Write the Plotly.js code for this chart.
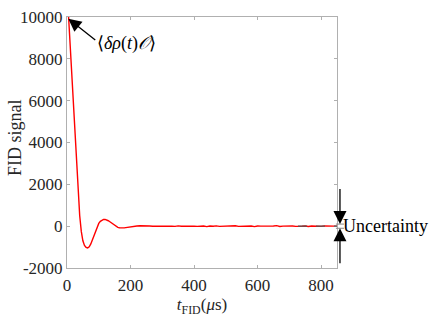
<!DOCTYPE html>
<html>
<head>
<meta charset="utf-8">
<script src="https://cdn.plot.ly/plotly-3.0.1.min.js"></script>
<style>html,body{margin:0;padding:0;background:#fff;}#chart{width:436px;height:319px;}</style>
</head>
<body>
<div id="chart"></div>
<script>
const tFid = [5,10,15,20,25,30,35,40,45,50,55,60,65,70,75,80,85,90,95,100,105,110,115,120,125,130,135,140,145,150,155,160,165,170,175,180,185,190,195,200,
  210,220,230,240,250,260,270,280,290,300,310,320,330,340,350,360,370,380,390,400,410,420,430,440,450,460,470,480,490,500,
  510,520,530,540,550,560,570,580,590,600,610,620,630,640,650,660,670,680,690,700,710,720,730,740,750,760,770,780,790,800,
  810,820,830,840,850];
const fidSignal = [10000,8650,7250,5800,4350,2900,1600,500,-250,-700,-920,-1010,-1040,-990,-850,-640,-420,-200,-10,130,230,290,320,320,300,260,210,150,90,30,-20,-55,-75,-85,-85,-80,-70,-55,-40,-30,
  -10,5,20,25,15,10,-5,0,-15,5,-10,10,0,-10,15,-5,5,-15,10,0,-10,10,5,-20,10,-5,15,-10,0,10,
  -15,5,20,-10,0,15,-10,5,-20,10,0,-5,15,-20,5,25,-15,0,10,-15,5,-10,10,-5,5,-15,10,-5,5,-10,
  10,-5,5,0,-5];
const xTicks = [0,200,400,600,800];
const yTicks = [-2000,0,2000,4000,6000,8000,10000];
const uncertainty = 100;
const dashStart = 727;
const initialPoint = {t: 4, v: 9920};

const serif = "Liberation Serif, Times New Roman, serif";
const axisColor = "#b0b0b0";
const textColor = "#262626";

const trace = {
  x: tFid, y: fidSignal, type: 'scatter', mode: 'lines',
  line: {color: '#ff0000', width: 1.4}, hoverinfo: 'skip'
};

const arrowBase = {text: '.', showarrow: true, arrowhead: 2, arrowsize: 2, arrowwidth: 1.3,
  arrowcolor: '#000', standoff: 0, startstandoff: 0, font: {size: 1, color: 'rgba(0,0,0,0)'}};

const plotW = 436 - 67 - 99, plotH = 319 - 17 - 51;

const layout = {
  width: 436, height: 319,
  margin: {l: 67, r: 99, t: 17, b: 51},
  paper_bgcolor: '#fff', plot_bgcolor: '#fff',
  showlegend: false,
  font: {family: serif, size: 17, color: textColor},
  xaxis: {
    range: [0, 850], tickvals: xTicks, ticktext: xTicks.map(String),
    showgrid: false, zeroline: false, showline: true, linecolor: axisColor, linewidth: 1,
    mirror: 'ticks', ticks: 'inside', ticklen: 3, tickcolor: axisColor,
    tickfont: {family: serif, size: 17, color: textColor}, ticklabelstandoff: 2,
    title: {text: '<i>t</i><sub>FID</sub>(<i>μ</i>s)', font: {family: serif, size: 17, color: textColor}, standoff: 3}
  },
  yaxis: {
    range: [-2000, 10000], tickvals: yTicks, ticktext: yTicks.map(String),
    showgrid: false, zeroline: false, showline: true, linecolor: axisColor, linewidth: 1,
    mirror: 'ticks', ticks: 'inside', ticklen: 3, tickcolor: axisColor,
    tickfont: {family: serif, size: 17, color: textColor}
  },
  shapes: [
    {type: 'line', xref: 'x', yref: 'y', x0: dashStart, x1: 850, y0: 0, y1: 0,
     line: {color: '#555555', width: 1.3, dash: 'dash'}},
    {type: 'line', xref: 'paper', yref: 'y', x0: 0.996, x1: 1.026, y0: uncertainty, y1: uncertainty,
     line: {color: '#888888', width: 1}},
    {type: 'line', xref: 'paper', yref: 'y', x0: 0.996, x1: 1.026, y0: -uncertainty, y1: -uncertainty,
     line: {color: '#888888', width: 1}}
  ],
  annotations: [
    Object.assign({}, arrowBase, {x: initialPoint.t, y: initialPoint.v, xref: 'x', yref: 'y', ax: 29, ay: 23}),
    {x: (95 - 67) / plotW, y: 1 - (43 - 17) / plotH, xref: 'paper', yref: 'paper', text: '⟨<i>δρ</i>(<i>t</i>)<i>𝒪</i>⟩', showarrow: false,
     xanchor: 'left', yanchor: 'middle', font: {family: serif, size: 18, color: '#000'}},
    Object.assign({}, arrowBase, {x: 1.011, y: uncertainty, xref: 'paper', yref: 'y', ax: 0, ay: -37}),
    Object.assign({}, arrowBase, {x: 1.011, y: -uncertainty, xref: 'paper', yref: 'y', ax: 0, ay: 37}),
    {x: 1.016, y: 0, xref: 'paper', yref: 'y', text: 'Uncertainty', showarrow: false,
     xanchor: 'left', yanchor: 'middle', font: {family: serif, size: 18, color: '#000'}},
    {x: (15 - 67) / plotW, y: 1 - (138 - 17) / plotH, xref: 'paper', yref: 'paper', text: 'FID signal', showarrow: false,
     textangle: -90, xanchor: 'center', yanchor: 'middle', font: {family: serif, size: 18, color: textColor}}
  ]
};

Plotly.newPlot('chart', [trace], layout, {displayModeBar: false, staticPlot: true});
</script>
</body>
</html>
